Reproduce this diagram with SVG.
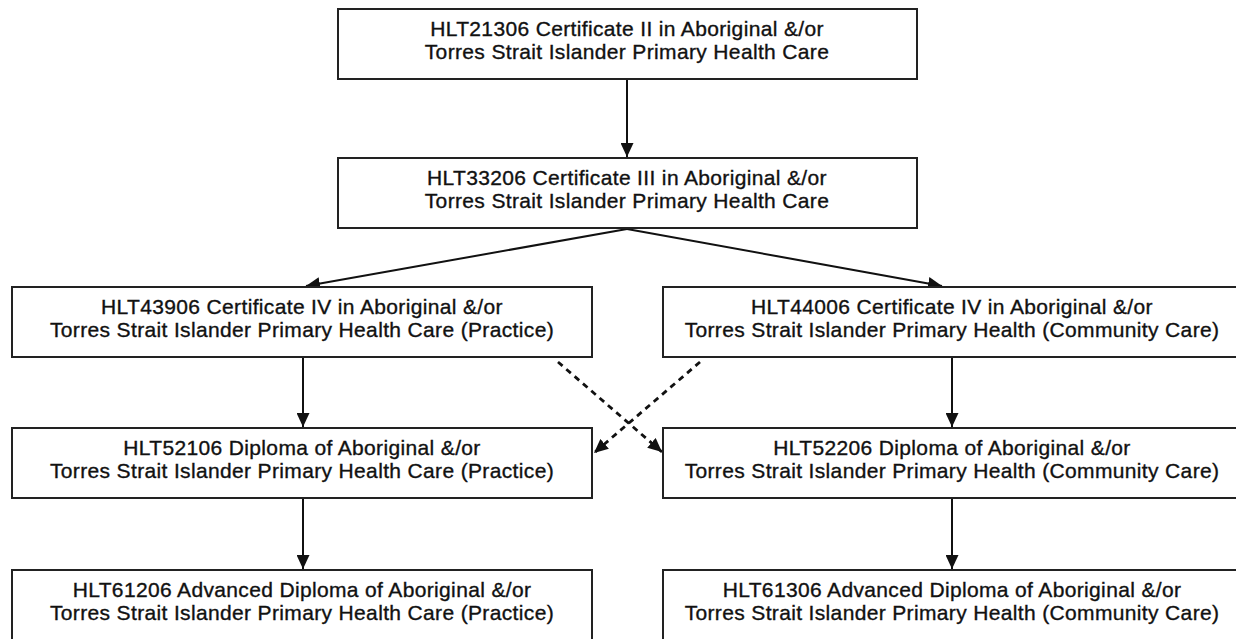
<svg xmlns="http://www.w3.org/2000/svg" width="1236" height="639" viewBox="0 0 1236 639">
<style>
.box{fill:#fff;stroke:#222;stroke-width:2}
.t{font-family:"Liberation Sans",Arial,sans-serif;font-size:21px;letter-spacing:0.35px;fill:#111;stroke:#111;stroke-width:0.35;text-anchor:middle}
.c{stroke:#111;stroke-width:2;fill:none}
.d{stroke:#111;stroke-width:2.8;fill:none;stroke-dasharray:6 5}
</style>
<defs>
<marker id="ah" markerUnits="userSpaceOnUse" markerWidth="15" markerHeight="13" refX="14" refY="6.5" orient="auto">
<path d="M0,0 L14,6.5 L0,13 Z" fill="#111"/>
</marker>
</defs>
<rect width="1236" height="639" fill="#fff"/>
<g id="connectors">
<line class="c" x1="627" y1="80" x2="627" y2="157" marker-end="url(#ah)"/>
<line class="c" x1="627" y1="229" x2="306" y2="286" marker-end="url(#ah)"/>
<line class="c" x1="627" y1="229" x2="942" y2="286" marker-end="url(#ah)"/>
<line class="c" x1="303" y1="358" x2="303" y2="427" marker-end="url(#ah)"/>
<line class="c" x1="952" y1="358" x2="952" y2="427" marker-end="url(#ah)"/>
<line class="c" x1="303" y1="499" x2="303" y2="569" marker-end="url(#ah)"/>
<line class="c" x1="952" y1="499" x2="952" y2="569" marker-end="url(#ah)"/>
<line class="d" x1="558" y1="362" x2="662" y2="452" marker-end="url(#ah)"/>
<line class="d" x1="700" y1="362" x2="594" y2="453" marker-end="url(#ah)"/>
</g>
<g id="n1"><rect class="box" x="338" y="9" width="579" height="70"/>
<text class="t" x="627" y="36">HLT21306 Certificate II in Aboriginal &amp;/or</text>
<text class="t" x="627" y="59">Torres Strait Islander Primary Health Care</text></g>
<g id="n2"><rect class="box" x="338" y="158" width="579" height="70"/>
<text class="t" x="627" y="185">HLT33206 Certificate III in Aboriginal &amp;/or</text>
<text class="t" x="627" y="208">Torres Strait Islander Primary Health Care</text></g>
<g id="n3"><rect class="box" x="12" y="287" width="580" height="70"/>
<text class="t" x="302" y="314">HLT43906 Certificate IV in Aboriginal &amp;/or</text>
<text class="t" x="302" y="337">Torres Strait Islander Primary Health Care (Practice)</text></g>
<g id="n4"><rect class="box" x="663" y="287" width="580" height="70"/>
<text class="t" x="952" y="314">HLT44006 Certificate IV in Aboriginal &amp;/or</text>
<text class="t" x="952" y="337">Torres Strait Islander Primary Health (Community Care)</text></g>
<g id="n5"><rect class="box" x="12" y="428" width="580" height="70"/>
<text class="t" x="302" y="455">HLT52106 Diploma of Aboriginal &amp;/or</text>
<text class="t" x="302" y="478">Torres Strait Islander Primary Health Care (Practice)</text></g>
<g id="n6"><rect class="box" x="663" y="428" width="580" height="70"/>
<text class="t" x="952" y="455">HLT52206 Diploma of Aboriginal &amp;/or</text>
<text class="t" x="952" y="478">Torres Strait Islander Primary Health (Community Care)</text></g>
<g id="n7"><rect class="box" x="12" y="570" width="580" height="72"/>
<text class="t" x="302" y="597">HLT61206 Advanced Diploma of Aboriginal &amp;/or</text>
<text class="t" x="302" y="620">Torres Strait Islander Primary Health Care (Practice)</text></g>
<g id="n8"><rect class="box" x="663" y="570" width="580" height="72"/>
<text class="t" x="952" y="597">HLT61306 Advanced Diploma of Aboriginal &amp;/or</text>
<text class="t" x="952" y="620">Torres Strait Islander Primary Health (Community Care)</text></g>
</svg>
